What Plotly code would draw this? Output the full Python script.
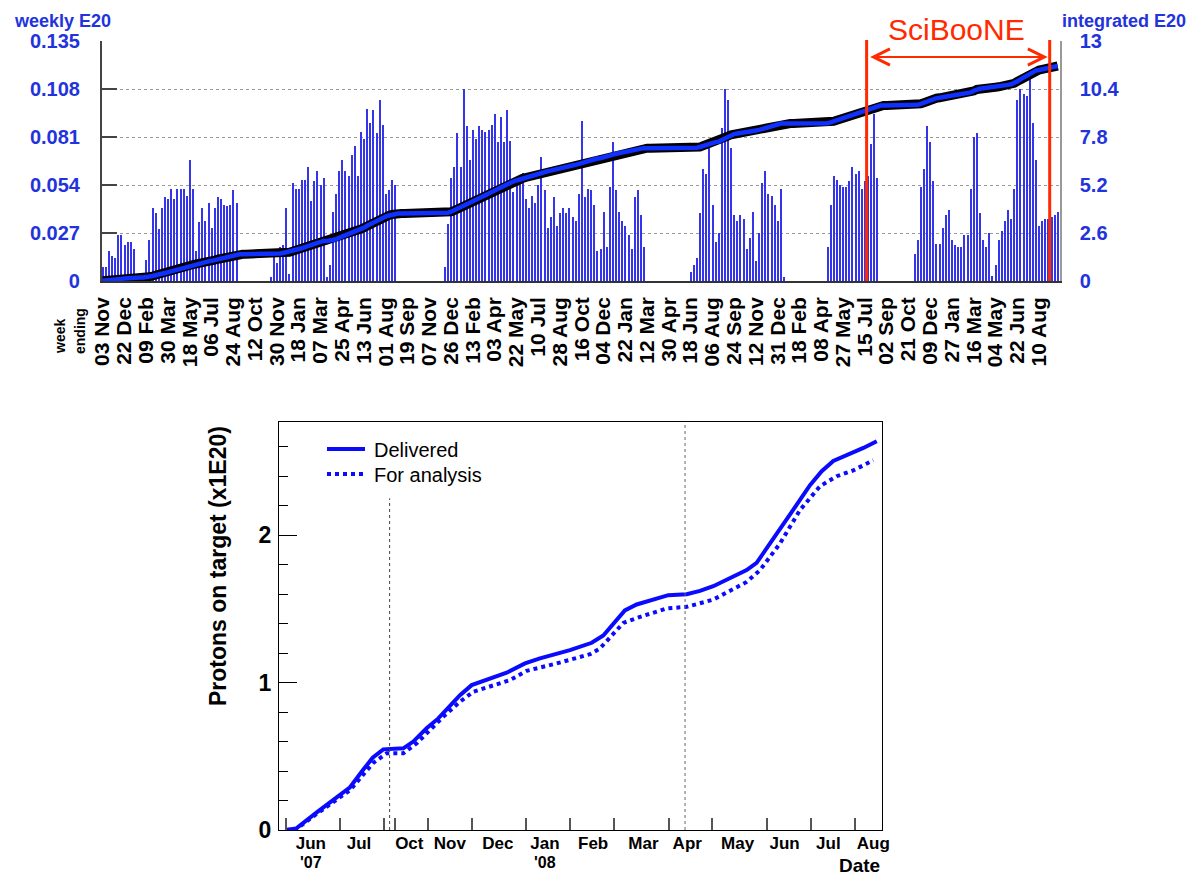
import numpy as np
import pandas as pd
import plotly.graph_objects as go

W, H = 1191, 877
FONT = "Liberation Sans, Arial, Helvetica, sans-serif"
BLUE_TXT = "#2233dd"
BAR_BLUE = "#3434e8"
LINE_BLUE = "#0a0aff"
RED = "#ff2a00"

# ---------------- weekly protons on target (E20), week ending Sundays from 03 Nov 2002
first_week_ending = "2002-11-03"
weekly_e20 = [
    0.008, 0.008, 0.017, 0.014, 0.013, 0.026, 0.026, 0.020, 0.022, 0.022, 0.018,
    0.0, 0.0, 0.0,
    0.012, 0.023, 0.041, 0.038, 0.029, 0.041, 0.047, 0.046, 0.052, 0.046,
    0.052, 0.052, 0.052, 0.048, 0.068, 0.052, 0.017, 0.033, 0.041, 0.034,
    0.044, 0.030, 0.041, 0.047, 0.046, 0.043, 0.042, 0.043, 0.051, 0.044,
    0.0, 0.0, 0.0, 0.0, 0.0, 0.0, 0.0, 0.0, 0.0, 0.0,
    0.002, 0.014, 0.010, 0.019, 0.020, 0.041, 0.004, 0.055, 0.052, 0.052,
    0.057, 0.057, 0.064, 0.045, 0.056, 0.062, 0.054, 0.058, 0.002, 0.009,
    0.039, 0.049, 0.062, 0.068, 0.062, 0.059, 0.071, 0.076, 0.059, 0.084,
    0.080, 0.097, 0.089, 0.096, 0.083, 0.102, 0.088, 0.049, 0.051, 0.057, 0.054,
    0.0, 0.0, 0.0, 0.0, 0.0, 0.0, 0.0, 0.0, 0.0, 0.0, 0.0, 0.0, 0.0, 0.0, 0.0,
    0.008, 0.032, 0.058, 0.064, 0.083, 0.064, 0.108, 0.087, 0.068, 0.085,
    0.080, 0.087, 0.085, 0.084, 0.085, 0.088, 0.094, 0.078, 0.092, 0.078,
    0.096, 0.079, 0.050, 0.055, 0.055, 0.061, 0.046, 0.041, 0.048, 0.044,
    0.054, 0.070, 0.051, 0.030, 0.036, 0.047, 0.031, 0.038, 0.041, 0.038,
    0.041, 0.036, 0.034, 0.049, 0.090, 0.047, 0.052, 0.051, 0.043, 0.017,
    0.018, 0.039, 0.019, 0.053, 0.078, 0.051, 0.039, 0.034, 0.031, 0.026,
    0.018, 0.047, 0.051, 0.037, 0.019,
    0.0, 0.0, 0.0, 0.0, 0.0, 0.0, 0.0, 0.0, 0.0, 0.0, 0.0, 0.0, 0.0, 0.0,
    0.005, 0.009, 0.013, 0.038, 0.063, 0.060, 0.075, 0.043, 0.022, 0.027,
    0.086, 0.108, 0.102, 0.075, 0.037, 0.034, 0.037, 0.035, 0.018, 0.024,
    0.039, 0.011, 0.027, 0.055, 0.062, 0.049, 0.048, 0.043, 0.034, 0.052, 0.002,
    0.0, 0.0, 0.0, 0.0, 0.0, 0.0, 0.0, 0.0, 0.0, 0.0, 0.0, 0.0, 0.0,
    0.019, 0.043, 0.059, 0.057, 0.054, 0.053, 0.053, 0.056, 0.064, 0.060,
    0.062, 0.052, 0.056, 0.059, 0.077, 0.094, 0.058,
    0.0, 0.0, 0.0, 0.0, 0.0, 0.0, 0.0, 0.0, 0.0, 0.0, 0.0,
    0.015, 0.023, 0.053, 0.063, 0.087, 0.078, 0.056, 0.021, 0.021, 0.030,
    0.037, 0.040, 0.023, 0.020, 0.019, 0.019, 0.026, 0.026, 0.052, 0.081,
    0.083, 0.038, 0.023, 0.019, 0.027, 0.003, 0.009, 0.023, 0.028, 0.034,
    0.040, 0.035, 0.052, 0.102, 0.108, 0.105, 0.104, 0.114, 0.089, 0.068,
    0.031, 0.034, 0.035, 0.035, 0.036, 0.037, 0.039,
]

weekly_ticks = [0, 0.027, 0.054, 0.081, 0.108, 0.135]
weekly_ticktext = ["0", "0.027", "0.054", "0.081", "0.108", "0.135"]
integrated_ticks = [0, 2.6, 5.2, 7.8, 10.4, 13]
integrated_ticktext = ["0", "2.6", "5.2", "7.8", "10.4", "13"]

sciboone_start = "2007-07-19"
sciboone_end = "2008-09-03"
arrow_level = 0.126

# ---------------- SciBooNE protons on target vs running week
weeks_delivered = [0, 0.95, 2.84, 4.96, 5.88, 7.1, 7.95, 8.92, 10.75, 11.66,
                   12.88, 13.95, 15.93, 17.0, 18.8, 20.2, 21.87, 23.24, 25.98,
                   27.97, 29.03, 31.0, 32.08, 33.9, 34.97, 36.65, 37.86, 39.08,
                   40.9, 42.13, 43.04, 44.4, 45.94, 47.92, 48.99, 50.05, 51.27,
                   52.8, 54.02]
pot_delivered = [0, 0.01, 0.12, 0.24, 0.29, 0.41, 0.49, 0.547, 0.554, 0.60,
                 0.69, 0.757, 0.915, 0.983, 1.028, 1.067, 1.13, 1.164, 1.22,
                 1.27, 1.32, 1.49, 1.53, 1.566, 1.593, 1.60, 1.622, 1.654,
                 1.717, 1.763, 1.812, 1.955, 2.124, 2.339, 2.434, 2.504, 2.542,
                 2.592, 2.637]
weeks_analysis = [0, 0.95, 2.84, 5.88, 8.0, 9.23, 10.75, 11.98, 14.4, 15.93,
                  17.15, 20.5, 22.03, 24.77, 27.82, 28.7, 30.86, 32.4, 34.83,
                  36.65, 39.08, 42.13, 43.35, 45.18, 47.0, 48.83, 50.36, 51.88,
                  53.7]
pot_analysis = [0, 0.005, 0.11, 0.27, 0.455, 0.52, 0.52, 0.588, 0.768, 0.87,
                0.938, 1.017, 1.08, 1.13, 1.193, 1.23, 1.405, 1.446, 1.503,
                1.514, 1.563, 1.683, 1.763, 1.944, 2.17, 2.332, 2.40, 2.44,
                2.508]

month_edges = [0, 5, 9, 10, 13, 17, 22, 26, 30, 35, 39, 44, 48, 52]
month_centers = [2.3, 6.7, 11.3, 15.0, 19.4, 23.7, 28.1, 32.7, 36.7, 41.3,
                 45.6, 49.6, 53.7]
month_names = ["Jun", "Jul", "Oct", "Nov", "Dec", "Jan", "Feb", "Mar", "Apr",
               "May", "Jun", "Jul", "Aug"]
year_marks = [(2.3, "'07"), (23.7, "'08")]
shutdown_week = 9.5
analysis_cut_week = 36.5

# ---------------- derived series
t0 = pd.Timestamp(first_week_ending)
week_ending = [t0 + pd.Timedelta(weeks=i) for i in range(len(weekly_e20))]
integrated_e20 = np.cumsum(weekly_e20)
week_ms = 7 * 24 * 3600 * 1000

x_lo = t0 - pd.Timedelta(days=2.2)
x_hi = t0 + pd.Timedelta(days=7 * 307.74)


def px_x(p):
    return p / W


def px_y(p):
    return 1 - p / H


fig = go.Figure()

fig.add_trace(go.Bar(
    x=week_ending, y=weekly_e20, width=0.45 * week_ms,
    marker=dict(color=BAR_BLUE, line=dict(width=0)),
    xaxis="x", yaxis="y", showlegend=False, hoverinfo="x+y",
))
fig.add_trace(go.Scatter(
    x=week_ending, y=integrated_e20, mode="lines",
    line=dict(color="black", width=9), xaxis="x", yaxis="y2",
    showlegend=False, hoverinfo="skip",
))
fig.add_trace(go.Scatter(
    x=week_ending, y=integrated_e20, mode="lines",
    line=dict(color="#1030ff", width=4.5), xaxis="x", yaxis="y2",
    showlegend=False,
))

fig.add_trace(go.Scatter(
    x=weeks_delivered, y=pot_delivered, mode="lines", name="Delivered",
    line=dict(color=LINE_BLUE, width=4), xaxis="x2", yaxis="y3",
    showlegend=False,
))
fig.add_trace(go.Scatter(
    x=weeks_analysis, y=pot_analysis, mode="lines", name="For analysis",
    line=dict(color=LINE_BLUE, width=4, dash="dot"), xaxis="x2", yaxis="y3",
    showlegend=False,
))
fig.add_trace(go.Scatter(
    x=month_centers, y=[None] * len(month_centers), mode="markers",
    xaxis="x3", yaxis="y3", showlegend=False, hoverinfo="skip",
))

tick_blue = dict(family=FONT, size=20, color=BLUE_TXT, weight="bold")

fig.update_layout(
    template="none",
    width=W, height=H,
    margin=dict(l=0, r=0, t=0, b=0, pad=0),
    paper_bgcolor="white", plot_bgcolor="white",
    font=dict(family=FONT, color="black"),
    bargap=0,
    showlegend=False,
    xaxis=dict(
        domain=[px_x(101.7), px_x(1060)], anchor="y", type="date",
        range=[x_lo, x_hi], tick0=first_week_ending, dtick=49 * 24 * 3600 * 1000,
        tickformat="%d %b", tickangle=-90, ticks="", automargin=False,
        tickfont=dict(family=FONT, size=21, color="black", weight="bold"),
        showgrid=False, zeroline=False, showline=True, linecolor="#333",
        linewidth=1.5, ticklabelstandoff=6,
    ),
    yaxis=dict(
        domain=[px_y(281), px_y(41)], anchor="x", range=[0, 0.135],
        tickvals=weekly_ticks, ticktext=weekly_ticktext, automargin=False,
        ticks="inside", ticklen=16, tickcolor="#444", tickwidth=1.5,
        showline=True, linecolor="#444", linewidth=1.5,
        showgrid=True, gridcolor="#9a9a9a", griddash="dot", gridwidth=1,
        zeroline=False, tickfont=tick_blue, ticklabelstandoff=16,
    ),
    yaxis2=dict(
        overlaying="y", side="right", anchor="x", range=[0, 13],
        tickvals=integrated_ticks, ticktext=integrated_ticktext,
        ticks="", showgrid=False, zeroline=False, automargin=False,
        showline=True, linecolor="#999", linewidth=1.5,
        tickfont=tick_blue, ticklabelstandoff=14,
    ),
    xaxis2=dict(
        domain=[px_x(279), px_x(882)], anchor="y3", range=[-0.61, 54.5],
        tickvals=month_edges, showticklabels=False, automargin=False,
        ticks="inside", ticklen=12, tickcolor="#555", tickwidth=1.5,
        showline=True, mirror=True, linecolor="black", linewidth=1,
        showgrid=False, zeroline=False,
    ),
    xaxis3=dict(
        overlaying="x2", anchor="y3", range=[-0.61, 54.5],
        tickvals=month_centers, ticktext=month_names, ticks="",
        showline=False, showgrid=False, zeroline=False, automargin=False,
        tickfont=dict(family=FONT, size=17, color="black", weight="bold"),
        ticklabelstandoff=1,
    ),
    yaxis3=dict(
        domain=[px_y(830), px_y(421.7)], anchor="x2", range=[0, 2.77],
        tickvals=[0, 1, 2], ticktext=["0", "1", "2"], automargin=False,
        ticks="inside", ticklen=18, tickcolor="black", tickwidth=1,
        minor=dict(ticks="inside", ticklen=9, dtick=0.2, tick0=0,
                   tickcolor="black", tickwidth=1, showgrid=False),
        showline=True, mirror=True, linecolor="black", linewidth=1,
        showgrid=False, zeroline=False,
        tickfont=dict(family=FONT, size=23, color="black", weight="bold"),
        ticklabelstandoff=2,
    ),
)

# legend keys for the lower panel, drawn as line samples with labels
legend_rows = [("Delivered", "solid", 449), ("For analysis", "dot", 474)]

shapes = [
    dict(type="line", xref="x", yref="paper", x0=sciboone_start, x1=sciboone_start,
         y0=px_y(281), y1=px_y(40), line=dict(color=RED, width=3)),
    dict(type="line", xref="x", yref="paper", x0=sciboone_end, x1=sciboone_end,
         y0=px_y(281), y1=px_y(40), line=dict(color=RED, width=3)),
    dict(type="line", xref="x2", yref="y3", x0=shutdown_week, x1=shutdown_week,
         y0=0, y1=2.25, line=dict(color="#444", width=1, dash="dot")),
    dict(type="line", xref="x2", yref="y3", x0=analysis_cut_week, x1=analysis_cut_week,
         y0=0, y1=2.77, line=dict(color="#666", width=1, dash="dot")),
]
for label, dash, ypix in legend_rows:
    shapes.append(dict(type="line", xref="paper", yref="paper",
                       x0=px_x(327), x1=px_x(365), y0=px_y(ypix), y1=px_y(ypix),
                       line=dict(color=LINE_BLUE, width=4, dash=dash)))
fig.update_layout(shapes=shapes)

annotations = [
    dict(text="weekly E20", xref="paper", yref="paper", x=px_x(12), y=px_y(21),
         xanchor="left", yanchor="middle", showarrow=False,
         font=dict(family=FONT, size=18, color=BLUE_TXT, weight="bold")),
    dict(text="integrated E20", xref="paper", yref="paper", x=px_x(1060), y=px_y(21),
         xanchor="left", yanchor="middle", showarrow=False,
         font=dict(family=FONT, size=18, color=BLUE_TXT, weight="bold")),
    dict(text="week", xref="paper", yref="paper", x=px_x(60), y=px_y(337),
         xanchor="center", yanchor="middle", textangle=-90, showarrow=False,
         font=dict(family=FONT, size=14, color="black", weight="bold")),
    dict(text="ending", xref="paper", yref="paper", x=px_x(80), y=px_y(331),
         xanchor="center", yanchor="middle", textangle=-90, showarrow=False,
         font=dict(family=FONT, size=14, color="black", weight="bold")),
    dict(text="SciBooNE", xref="paper", yref="paper", x=px_x(956.7), y=px_y(30),
         xanchor="center", yanchor="middle", showarrow=False,
         font=dict(family=FONT, size=30, color=RED)),
    dict(text="", xref="x", yref="y", x=sciboone_end, y=arrow_level,
         axref="x", ayref="y", ax=sciboone_start, ay=arrow_level,
         showarrow=True, arrowside="end+start", arrowhead=5, startarrowhead=5,
         arrowsize=1.6, startarrowsize=1.6, arrowwidth=2, arrowcolor=RED,
         standoff=2, startstandoff=2),
    dict(text="Protons on target (x1E20)", xref="paper", yref="paper",
         x=px_x(218), y=px_y(566), xanchor="center", yanchor="middle",
         textangle=-90, showarrow=False,
         font=dict(family=FONT, size=23, color="black", weight="bold")),
    dict(text="Date", xref="paper", yref="paper", x=px_x(882), y=px_y(865),
         xanchor="right", yanchor="middle", showarrow=False,
         font=dict(family=FONT, size=19, color="black", weight="bold")),
]
for wk, label in year_marks:
    annotations.append(dict(
        text=label, xref="x2", yref="paper", x=wk, y=px_y(862),
        xanchor="center", yanchor="middle", showarrow=False,
        font=dict(family=FONT, size=16, color="black", weight="bold")))
for label, dash, ypix in legend_rows:
    annotations.append(dict(
        text=label, xref="paper", yref="paper", x=px_x(372), y=px_y(ypix + 1),
        xanchor="left", yanchor="middle", showarrow=False,
        font=dict(family=FONT, size=20, color="black")))
fig.update_layout(annotations=annotations)

fig.write_html(
    "out.html",
    post_script="document.body.style.margin='0';document.body.style.overflow='hidden';",
)
